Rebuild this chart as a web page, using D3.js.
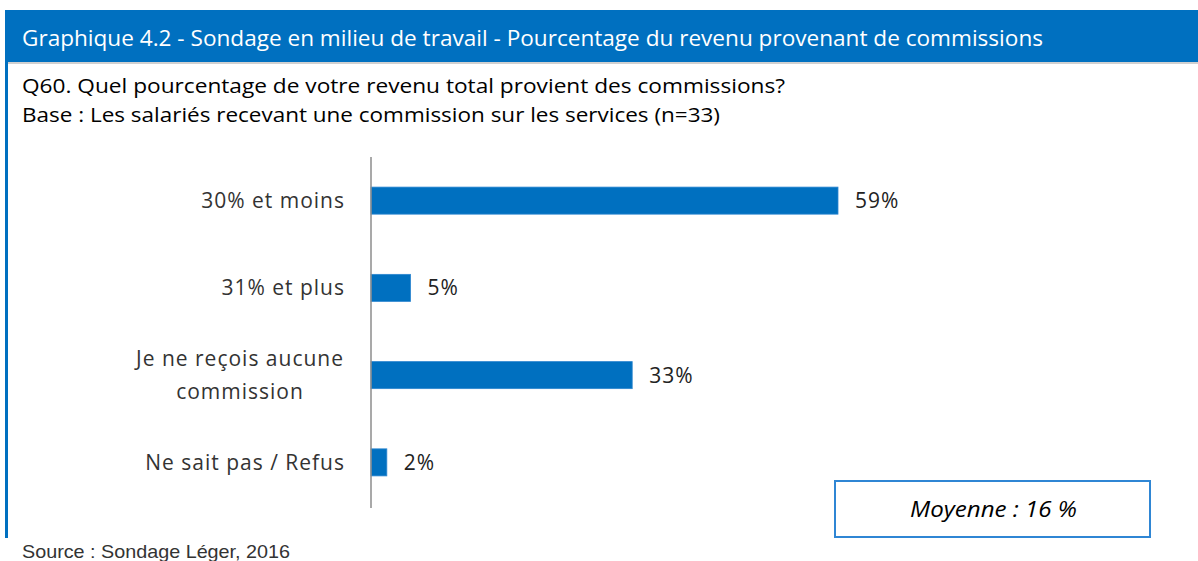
<!DOCTYPE html>
<html>
<head>
<meta charset="utf-8">
<script src="https://cdn.jsdelivr.net/npm/d3@7"></script>
<style>
  html, body { margin: 0; padding: 0; background: #fff; }
  svg { display: block; }
</style>
</head>
<body>
<svg id="chart" width="1198" height="561"></svg>
<script>
// chart data
const categories = [
  ['30% et moins'],
  ['31% et plus'],
  ['Je ne reçois aucune', 'commission'],
  ['Ne sait pas / Refus'],
];
const values = [59, 5, 33, 2];
const valueLabels = ['59%', '5%', '33%', '2%'];

const titleText =
  'Graphique 4.2 - Sondage en milieu de travail - Pourcentage du revenu provenant de commissions';
const questionText = 'Q60. Quel pourcentage de votre revenu total provient des commissions?';
const baseText = 'Base : Les salariés recevant une commission sur les services (n=33)';
const meanText = 'Moyenne : 16 %';
const sourceText = 'Source : Sondage Léger, 2016';

const blue = '#0070C0';
const font = '"Open Sans", "Noto Sans", sans-serif';

const svg = d3.select('#chart');

// header band
svg.append('rect')
  .attr('x', 5).attr('y', 10)
  .attr('width', 1193).attr('height', 52)
  .attr('fill', blue);
svg.append('rect')
  .attr('x', 5).attr('y', 62)
  .attr('width', 1193).attr('height', 2)
  .attr('fill', '#d0d0d0');
// left border
svg.append('rect')
  .attr('x', 5).attr('y', 10)
  .attr('width', 3).attr('height', 528)
  .attr('fill', blue);

svg.append('text')
  .attr('x', 22).attr('y', 46)
  .attr('fill', '#fff')
  .style('font-family', font)
  .style('font-size', '21px')
  .attr('textLength', 1021)
  .attr('lengthAdjust', 'spacingAndGlyphs')
  .text(titleText);

svg.append('text')
  .attr('x', 22).attr('y', 93)
  .attr('fill', '#000')
  .style('font-family', font)
  .style('font-size', '20px')
  .attr('textLength', 763)
  .attr('lengthAdjust', 'spacingAndGlyphs')
  .text(questionText);

svg.append('text')
  .attr('x', 22).attr('y', 122)
  .attr('fill', '#000')
  .style('font-family', font)
  .style('font-size', '20px')
  .attr('textLength', 698)
  .attr('lengthAdjust', 'spacingAndGlyphs')
  .text(baseText);

// scales
const x = d3.scaleLinear().domain([0, 59]).range([371, 838]);
const y = d3.scaleBand()
  .domain(d3.range(values.length))
  .range([157, 506])
  .paddingInner(0.69)
  .paddingOuter(0.345);

// bars
svg.append('g')
  .selectAll('rect')
  .data(values)
  .join('rect')
  .attr('x', x(0))
  .attr('y', (d, i) => y(i))
  .attr('width', d => x(d) - x(0))
  .attr('height', y.bandwidth())
  .attr('fill', blue)
  .attr('stroke', '#2d86d0')
  .attr('stroke-width', 0.8);

// value labels
svg.append('g')
  .selectAll('text')
  .data(values)
  .join('text')
  .attr('x', d => x(d) + 17)
  .attr('y', (d, i) => y(i) + y.bandwidth() / 2)
  .attr('dy', '0.36em')
  .attr('fill', '#222')
  .style('font-family', font)
  .style('font-size', '21px')
  .style('letter-spacing', '1px')
  .text((d, i) => valueLabels[i]);

// category labels: right-aligned block, lines centred within the block
const catG = svg.append('g')
  .style('font-family', font)
  .style('font-size', '21px')
  .style('letter-spacing', '1px')
  .attr('fill', '#333');

categories.forEach((lines, i) => {
  const cy = y(i) + y.bandwidth() / 2;
  const t = catG.append('text').attr('text-anchor', 'middle');
  const lineH = 33;
  lines.forEach((line, j) => {
    t.append('tspan')
      .attr('x', 0)
      .attr('y', cy + (j - (lines.length - 1) / 2) * lineH)
      .attr('dy', '0.36em')
      .text(line);
  });
  const w = t.node().getBBox().width;
  t.selectAll('tspan').attr('x', 345 - w / 2);
});

// axis line
svg.append('line')
  .attr('x1', x(0)).attr('x2', x(0))
  .attr('y1', 157).attr('y2', 508)
  .attr('stroke', '#8c8c8c')
  .attr('stroke-width', 1.5);

// mean box
svg.append('rect')
  .attr('x', 835).attr('y', 481)
  .attr('width', 315).attr('height', 56)
  .attr('fill', '#fff')
  .attr('stroke', '#2f86d4')
  .attr('stroke-width', 2);
svg.append('text')
  .attr('x', 910).attr('y', 509)
  .attr('dy', '0.36em')
  .attr('fill', '#000')
  .style('font-family', font)
  .style('font-style', 'italic')
  .style('font-size', '22px')
  .attr('textLength', 167)
  .attr('lengthAdjust', 'spacingAndGlyphs')
  .text(meanText);

// source
svg.append('text')
  .attr('x', 22).attr('y', 558)
  .attr('fill', '#333')
  .style('font-family', '"Liberation Sans", Arial, sans-serif')
  .style('font-size', '19px')
  .attr('textLength', 268)
  .attr('lengthAdjust', 'spacingAndGlyphs')
  .text(sourceText);
</script>
</body>
</html>
